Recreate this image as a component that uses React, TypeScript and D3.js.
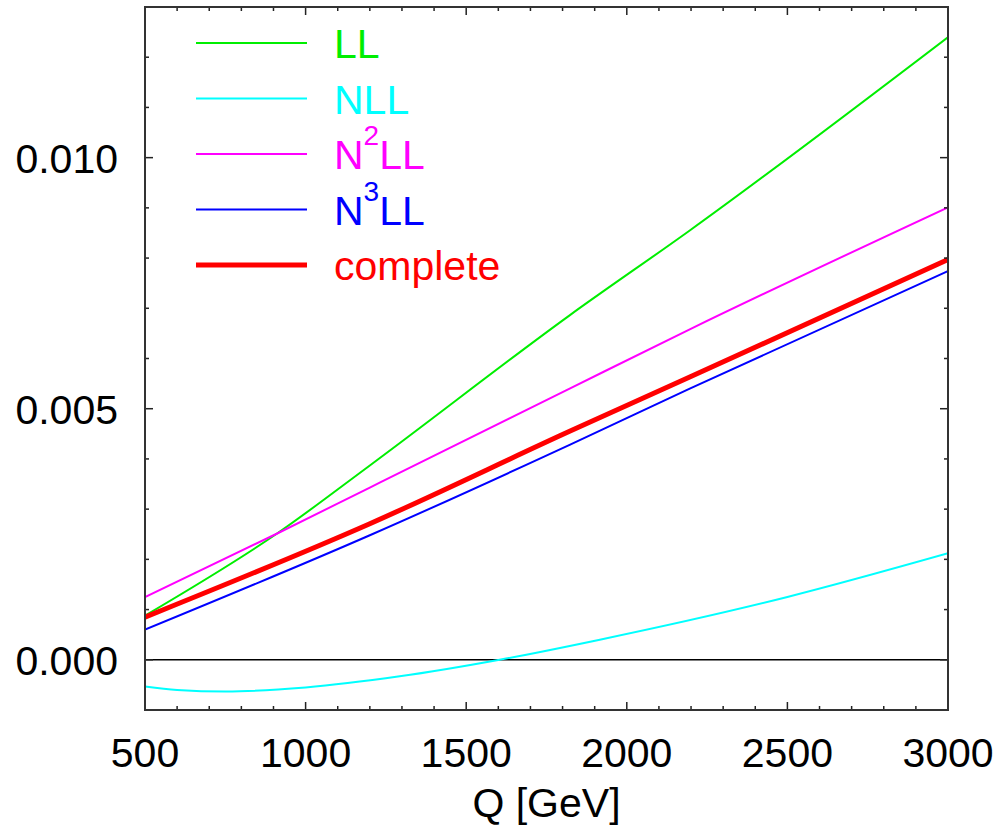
import React from 'react';
import * as d3 from 'd3';

// values
const llQ = [500, 910, 1200, 1822, 2196, 3000];
const llV = [0.00088, 0.00251, 0.00387, 0.00686, 0.00855, 0.0124];

const nllQ = [500, 600, 750, 1000, 1293, 1604, 1916, 2500, 3000];
const nllV = [-0.00053, -0.0006, -0.00063, -0.00055, -0.00033, 0.0, 0.0004, 0.00125, 0.00212];

const n2llQ = [500, 910, 1200, 1822, 2196, 3000];
const n2llV = [0.00125, 0.00251, 0.00343, 0.0054, 0.00658, 0.00901];

const n3llQ = [500, 1200, 1822, 2196, 3000];
const n3llV = [0.0006, 0.00248, 0.00428, 0.0054, 0.00774];

const completeQ = [500, 1200, 1822, 2196, 3000];
const completeV = [0.00085, 0.00271, 0.00455, 0.00563, 0.00797];

const xMajor = [500, 1000, 1500, 2000, 2500, 3000];
const yMajor = [0, 0.005, 0.01];
const yLabels = ['0.000', '0.005', '0.010'];

const series = [
  { name: 'LL', sup: '', q: llQ, v: llV, color: '#00ee00', width: 2 },
  { name: 'NLL', sup: '', q: nllQ, v: nllV, color: '#00ffff', width: 2 },
  { name: 'LL', sup: '2', q: n2llQ, v: n2llV, color: '#ff00ff', width: 2 },
  { name: 'LL', sup: '3', q: n3llQ, v: n3llV, color: '#0000ff', width: 2 },
  { name: 'complete', sup: '', q: completeQ, v: completeV, color: '#ff0000', width: 5 },
];

const left = 145, right = 948, top = 7, bottom = 710;
const font = '"Liberation Sans", Arial, sans-serif';

export default function App() {
  const x = d3.scaleLinear().domain([500, 3000]).range([left, right]);
  const y = d3.scaleLinear().domain([-0.001, 0.013]).range([bottom, top]);

  const line = d3.line<[number, number]>()
    .x(d => x(d[0]))
    .y(d => y(d[1]))
    .curve(d3.curveMonotoneX);

  const xMinor = d3.range(500, 3001, 100);
  const yMinor = d3.range(-0.001, 0.01301, 0.001);

  return (
    <svg width={999} height={830} style={{ position: 'absolute', left: 0, top: 0, background: '#fff' }}>
      <defs>
        <clipPath id="plot">
          <rect x={left} y={top} width={right - left} height={bottom - top} />
        </clipPath>
      </defs>

      {/* zero line */}
      <line x1={left} x2={right} y1={y(0)} y2={y(0)} stroke="#000" strokeWidth={1.5} />

      <g clipPath="url(#plot)">
        {series.map((s, i) => (
          <path key={`c-${i}`}
                d={line(s.q.map((q, j) => [q, s.v[j]] as [number, number])) || ''}
                fill="none" stroke={s.color} strokeWidth={s.width} />
        ))}
      </g>

      {/* ticks, inward on all four sides */}
      {xMinor.map((q, i) => {
        const len = xMajor.includes(q) ? 8 : 4;
        return (
          <g key={`xt-${i}`} stroke="#222" strokeWidth={1.5}>
            <line x1={x(q)} x2={x(q)} y1={bottom} y2={bottom - len} />
            <line x1={x(q)} x2={x(q)} y1={top} y2={top + len} />
          </g>
        );
      })}
      {yMinor.map((v, i) => {
        const major = yMajor.some(m => Math.abs(m - v) < 1e-7);
        const len = major ? 8 : 4;
        return (
          <g key={`yt-${i}`} stroke="#222" strokeWidth={1.5}>
            <line x1={left} x2={left + len} y1={y(v)} y2={y(v)} />
            <line x1={right} x2={right - len} y1={y(v)} y2={y(v)} />
          </g>
        );
      })}

      <rect x={left} y={top} width={right - left} height={bottom - top}
            fill="none" stroke="#333" strokeWidth={2} />

      {/* tick labels */}
      {xMajor.map((q, i) => (
        <text key={`xl-${i}`} x={x(q)} y={767} textAnchor="middle"
              fontFamily={font} fontSize={41} fill="#000">{q}</text>
      ))}
      {yMajor.map((v, i) => (
        <text key={`yl-${i}`} x={118} y={y(v) + 15} textAnchor="end"
              fontFamily={font} fontSize={41} fill="#000">{yLabels[i]}</text>
      ))}
      <text x={(left + right) / 2} y={817} textAnchor="middle"
            fontFamily={font} fontSize={41} fill="#000">Q [GeV]</text>

      {/* legend */}
      {series.map((s, i) => {
        const ly = 43 + i * 55.5;
        return (
          <g key={`lg-${i}`}>
            <line x1={196} x2={307} y1={ly} y2={ly} stroke={s.color} strokeWidth={s.width} />
            <text x={334} y={ly + 15} fontFamily={font} fontSize={41} fill={s.color}>
              {s.sup ? (
                <>
                  <tspan>N</tspan>
                  <tspan dy={-24} fontSize={28}>{s.sup}</tspan>
                  <tspan dy={24}>{s.name}</tspan>
                </>
              ) : s.name}
            </text>
          </g>
        );
      })}
    </svg>
  );
}
